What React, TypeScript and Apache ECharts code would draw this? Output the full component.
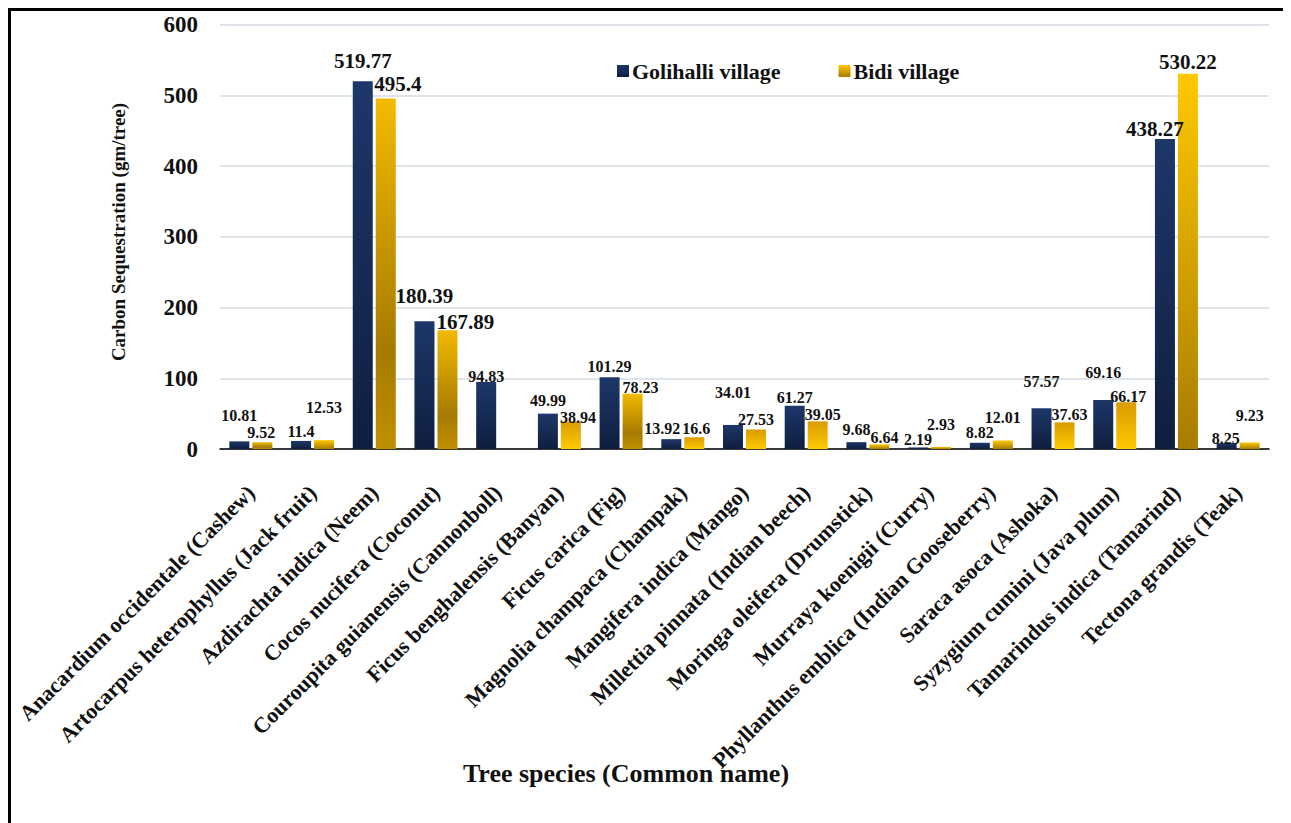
import React, { useEffect, useRef } from "react";
import * as echarts from "echarts";

const categories = [
  "Anacardium occidentale (Cashew)",
  "Artocarpus heterophyllus (Jack fruit)",
  "Azdirachta indica (Neem)",
  "Cocos nucifera (Coconut)",
  "Couroupita guianensis (Cannonboll)",
  "Ficus benghalensis (Banyan)",
  "Ficus carica (Fig)",
  "Magnolia champaca (Champak)",
  "Mangifera indica (Mango)",
  "Millettia pinnata (Indian beech)",
  "Moringa oleifera (Drumstick)",
  "Murraya koenigii (Curry)",
  "Phyllanthus emblica (Indian Gooseberry)",
  "Saraca asoca (Ashoka)",
  "Syzygium cumini (Java plum)",
  "Tamarindus indica (Tamarind)",
  "Tectona grandis (Teak)",
];

const golihalli = [10.81, 11.4, 519.77, 180.39, 94.83, 49.99, 101.29, 13.92, 34.01, 61.27, 9.68, 2.19, 8.82, 57.57, 69.16, 438.27, 8.25];
const bidi = [9.52, 12.53, 495.4, 167.89, null, 38.94, 78.23, 16.6, 27.53, 39.05, 6.64, 2.93, 12.01, 37.63, 66.17, 530.22, 9.23];

const yTicks = { min: 0, max: 600, interval: 100 };

// label nudges (style only)
const golLabelOffset = [
  [0, -18], [0, -1], [0, -10], [0, -15], [0, 3], [0, -5], [0, -3], [-9, -3], [0, -24],
  [0, 0], [0, -5], [0, 0], [0, -2], [0, -19], [0, -20], [-10, 1], [-1, 3],
];
const bidiLabelOffset = [
  [-1, -2], [0, -25], [12, -4], [18, 2], [0, 0], [7, 4], [8, 2], [2, -1], [0, -2],
  [5, 1], [5, 1], [0, -14], [0, -15], [5, 0], [2, 2], [0, -1], [0, -19],
];
// gold shading style per bar: "mid" dark middle, "up" bright bottom, "down" bright top
const bidiShade = ["mid", "down", "mid", "mid", "mid", "up", "mid", "up", "up", "up", "down", "down", "down", "up", "up", "down", "down"];

const FONT = "Liberation Serif";

const navyGrad = () =>
  new echarts.graphic.LinearGradient(0, 0, 0, 1, [
    { offset: 0, color: "#1d3769" },
    { offset: 1, color: "#0f1e3f" },
  ]);

const goldGrad = (kind: string) => {
  if (kind === "up")
    return new echarts.graphic.LinearGradient(0, 0, 0, 1, [
      { offset: 0, color: "#d89c00" },
      { offset: 1, color: "#ffca00" },
    ]);
  if (kind === "down")
    return new echarts.graphic.LinearGradient(0, 0, 0, 1, [
      { offset: 0, color: "#ffc800" },
      { offset: 1, color: "#a87c00" },
    ]);
  return new echarts.graphic.LinearGradient(0, 0, 0, 1, [
    { offset: 0, color: "#f2ba00" },
    { offset: 0.72, color: "#a67a00" },
    { offset: 1, color: "#c09000" },
  ]);
};

export default function App() {
  const ref = useRef<HTMLDivElement>(null);

  useEffect(() => {
    document.documentElement.style.overflow = "hidden";
    document.body.style.overflow = "hidden";
    const chart = echarts.init(ref.current!, null, { renderer: "svg" });

    const golData = golihalli.map((v, i) => ({
      value: v,
      itemStyle: { color: navyGrad() },
      label: { offset: golLabelOffset[i], fontSize: v > 150 ? 21 : 16 },
    }));
    const bidiData = bidi.map((v, i) =>
      v === null
        ? "-"
        : {
            value: v,
            itemStyle: { color: goldGrad(bidiShade[i]) },
            label: { offset: bidiLabelOffset[i], fontSize: v > 150 ? 21 : 16 },
          }
    );

    const labelBase = {
      show: true,
      position: "top",
      distance: 0,
      fontFamily: FONT,
      fontWeight: "bold",
      color: "#111",
      fontSize: 16,
    };

    chart.setOption({
      animation: false,
      backgroundColor: "#fff",
      textStyle: { fontFamily: FONT },
      grid: { left: 212, right: 18, top: 16.5, bottom: 374, containLabel: false },
      legend: {
        left: 604,
        top: 47,
        itemWidth: 12,
        itemHeight: 12,
        itemGap: 58,
        icon: "rect",
        textStyle: { fontFamily: FONT, fontWeight: "bold", fontSize: 22, color: "#111", padding: [0, 0, 0, -2] },
        data: [
          { name: "Golihalli village", itemStyle: { color: navyGrad() } },
          { name: "Bidi village", itemStyle: { color: goldGrad("down") } },
        ],
      },
      xAxis: {
        type: "category",
        data: categories,
        axisLine: { lineStyle: { color: "#000", width: 1.5 } },
        axisTick: { show: false },
        axisLabel: {
          rotate: 45,
          interval: 0,
          margin: 40,
          fontFamily: FONT,
          fontWeight: "bold",
          fontSize: 22,
          color: "#111",
        },
      },
      yAxis: {
        type: "value",
        min: yTicks.min,
        max: yTicks.max,
        interval: yTicks.interval,
        axisLine: { show: false },
        axisTick: { show: false },
        axisLabel: { margin: 22, fontFamily: FONT, fontWeight: "bold", fontSize: 23, color: "#111" },
        splitLine: { lineStyle: { color: "#dfe3ea", width: 2 } },
      },
      series: [
        {
          name: "Golihalli village",
          type: "bar",
          barWidth: 20,
          barGap: "15%",
          data: golData,
          label: labelBase,
        },
        {
          name: "Bidi village",
          type: "bar",
          barWidth: 20,
          barGap: "15%",
          data: bidiData,
          label: labelBase,
        },
      ],
      graphic: [
        {
          type: "rect",
          silent: true,
          shape: { x: 1.5, y: 1.5, width: 1276, height: 900 },
          style: { fill: "none", stroke: "#000", lineWidth: 3 },
        },
        {
          type: "text",
          x: 110,
          y: 224,
          rotation: Math.PI / 2,
          style: {
            text: "Carbon Sequestration (gm/tree)",
            fontFamily: FONT,
            fontWeight: "bold",
            fontSize: 19,
            fill: "#111",
            align: "center",
            verticalAlign: "middle",
          },
        },
        {
          type: "text",
          x: 618,
          y: 765,
          style: {
            text: "Tree species (Common name)",
            fontFamily: FONT,
            fontWeight: "bold",
            fontSize: 26,
            fill: "#111",
            align: "center",
            verticalAlign: "middle",
          },
        },
      ],
    });

    return () => chart.dispose();
  }, []);

  return <div ref={ref} style={{ width: 1279, height: 815 }} />;
}
